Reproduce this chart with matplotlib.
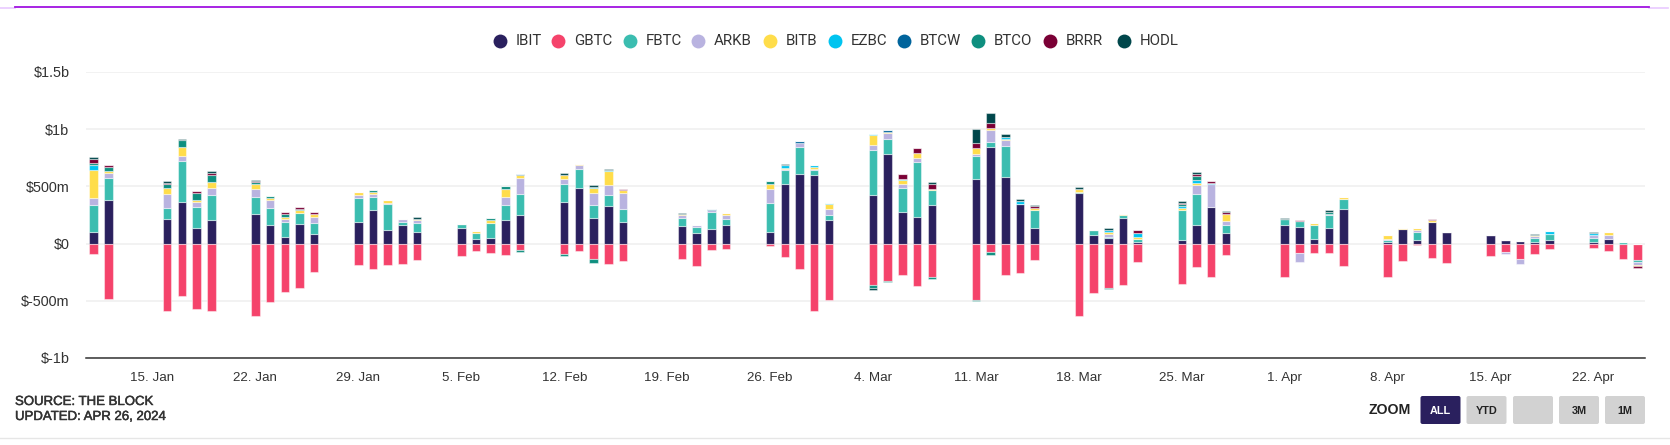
#!/usr/bin/env python3
import pandas as pd
import matplotlib
matplotlib.use('Agg')
import matplotlib.pyplot as plt
import matplotlib.patheffects as pe
from matplotlib.patches import FancyBboxPatch

# Trading days, one row per week
days = ['2024-01-11', '2024-01-12',
        '2024-01-16', '2024-01-17', '2024-01-18', '2024-01-19',
        '2024-01-22', '2024-01-23', '2024-01-24', '2024-01-25', '2024-01-26',
        '2024-01-29', '2024-01-30', '2024-01-31', '2024-02-01', '2024-02-02',
        '2024-02-05', '2024-02-06', '2024-02-07', '2024-02-08', '2024-02-09',
        '2024-02-12', '2024-02-13', '2024-02-14', '2024-02-15', '2024-02-16',
        '2024-02-20', '2024-02-21', '2024-02-22', '2024-02-23',
        '2024-02-26', '2024-02-27', '2024-02-28', '2024-02-29', '2024-03-01',
        '2024-03-04', '2024-03-05', '2024-03-06', '2024-03-07', '2024-03-08',
        '2024-03-11', '2024-03-12', '2024-03-13', '2024-03-14', '2024-03-15',
        '2024-03-18', '2024-03-19', '2024-03-20', '2024-03-21', '2024-03-22',
        '2024-03-25', '2024-03-26', '2024-03-27', '2024-03-28',
        '2024-04-01', '2024-04-02', '2024-04-03', '2024-04-04', '2024-04-05',
        '2024-04-08', '2024-04-09', '2024-04-10', '2024-04-11', '2024-04-12',
        '2024-04-15', '2024-04-16', '2024-04-17', '2024-04-18', '2024-04-19',
        '2024-04-22', '2024-04-23', '2024-04-24', '2024-04-25']

# Daily flows in $m
ibit = [105, 378,
        215, 366, 140, 203,
        259, 163, 61, 174, 87,
        192, 294, 119, 163, 105,
        140, 44, 52, 206, 250,
        366, 488, 227, 326, 192,
        151, 96, 128, 163,
        105, 520, 608, 596, 203,
        422, 782, 279, 235, 334,
        564, 846, 584, 349, 140,
        445, 73, 52, 227, 17,
        32, 163, 323, 96,
        163, 148, 41, 140, 302,
        17, 128, 32, 192, 105,
        76, 32, 20, 15, 32,
        17, 41, 0, 0]
gbtc = [-87, -480,
        -587, -456, -576, -587,
        -631, -512, -424, -392, -250,
        -183, -218, -183, -174, -142,
        -110, -67, -78, -99, -55,
        -87, -67, -134, -174, -154,
        -131, -198, -55, -44,
        -17, -119, -218, -590, -491,
        -363, -328, -273, -372, -294,
        -491, -76, -273, -253, -142,
        -634, -436, -384, -360, -163,
        -349, -206, -294, -99,
        -294, -78, -78, -78, -198,
        -294, -154, -12, -122, -166,
        -110, -76, -134, -90, -47,
        -35, -67, -131, -142]
fbtc = [230, 198,
        99, 360, 183, 218,
        151, 151, 131, 96, 96,
        209, 116, 230, 29, 78,
        35, 47, 131, 131, 186,
        157, 163, 110, 99, 110,
        76, 52, 151, 55,
        250, 119, 238, 44, 44,
        392, 131, 206, 480, 131,
        206, 44, 273, 0, 151,
        9, 47, 9, 20, 23,
        259, 273, 0, 67,
        49, 47, 122, 108, 90,
        15, 0, 73, 0, 0,
        0, 0, 0, 38, 55,
        35, 0, 12, -20]
arkb = [67, 44,
        119, 44, 44, 64,
        67, 67, 26, 0, 52,
        23, 26, 9, 26, 23,
        0, 0, 0, 73, 140,
        41, 32, 108, 87, 142,
        23, 12, 12, 29,
        122, 12, 32, 12, 55,
        44, 55, 35, 35, 0,
        12, 102, 47, 0, 0,
        0, 0, 26, 0, 0,
        0, 76, 201, 32,
        0, -87, 0, 15, 0,
        9, 0, 15, 0, 0,
        0, -15, -44, 12, 0,
        23, 32, 0, -23]
bitb = [241, 12,
        55, 76, 15, 55,
        47, 17, 17, 26, 26,
        23, 17, 23, 0, 12,
        0, 17, 23, 67, 20,
        32, 12, 44, 119, 23,
        12, 0, 0, 23,
        44, 9, 0, 20, 44,
        87, 9, 32, 44, 12,
        55, 20, 9, 0, 23,
        23, 0, 17, 12, 20,
        23, 20, 0, 67,
        0, 0, 20, 0, 12,
        35, 12, 20, 12, 0,
        0, 0, 0, 12, 0,
        0, 26, 0, -12]
ezbc = [44, 0,
        0, 0, 0, 0,
        0, 0, 0, 0, 0,
        0, 0, 0, 0, 0,
        0, 0, 0, 0, 0,
        0, 0, 9, 9, 0,
        0, 0, 0, 0,
        0, 26, 0, 12, 12,
        12, 0, 9, 0, 0,
        0, 0, 23, 20, 0,
        0, 0, 12, 0, 29,
        15, 20, 9, 0,
        0, 0, 0, 0, 0,
        0, 0, 0, 0, 0,
        0, 0, 0, 0, 23,
        15, 0, 0, 0]
btcw = [0, 0,
        0, 0, 0, 0,
        0, 0, 0, 0, 0,
        0, 0, 0, 0, 0,
        0, 0, 0, 0, 12,
        5, 0, 0, 0, 0,
        0, 0, 12, 0,
        0, 0, 17, 0, 0,
        0, 12, 0, 0, 0,
        0, 0, 0, 0, 0,
        0, 0, 0, 0, 0,
        0, 0, 0, 0,
        0, 0, 0, 0, 0,
        0, 0, 0, 0, 0,
        0, 0, 0, 0, 0,
        0, 0, 0, 0]
btco = [20, 35,
        32, 58, 61, 64,
        15, 17, 26, 10, 0,
        0, 15, 0, 0, 0,
        0, 0, 20, 23, -15,
        -23, 0, -32, 0, 0,
        0, 0, 0, 0,
        23, 0, 0, 0, 0,
        -26, -12, 0, 0, -12,
        -12, -20, 0, 0, 0,
        0, 0, -12, 0, 0,
        17, 35, 0, 0,
        0, 0, 0, 16, 0,
        0, 0, 0, 0, 0,
        0, 0, 0, 0, 0,
        0, 0, 0, 0]
brrr = [35, 17,
        12, 0, 15, 12,
        6, 0, 12, 12, 12,
        0, 0, 0, 0, 0,
        0, 0, 0, 0, 0,
        0, 0, 0, 0, 9,
        0, 0, 0, 0,
        0, 0, 0, 0, 0,
        0, 0, 47, 44, 47,
        44, 44, 0, 0, 12,
        0, 0, 0, 0, 29,
        12, 20, 12, 12,
        0, 12, 0, 0, 0,
        0, 0, 0, 12, 0,
        0, 0, 0, 0, 0,
        0, 0, 0, -20]
hodl = [12, 0,
        12, 12, 0, 15,
        12, 0, 0, 0, 0,
        0, 0, 0, 0, 12,
        0, 0, 0, 0, 0,
        12, 0, 12, 12, 0,
        9, 0, 0, 0,
        0, 12, 0, 0, 0,
        -15, 0, 0, 0, 12,
        122, 87, 20, 20, 12,
        15, 0, 23, 0, 0,
        12, 23, 0, 9,
        9, 0, 0, 16, 0,
        0, 0, 0, 0, 0,
        0, 0, 0, 9, 0,
        15, 0, 0, 0]

names = ['IBIT', 'GBTC', 'FBTC', 'ARKB', 'BITB', 'EZBC', 'BTCW', 'BTCO', 'BRRR', 'HODL']
series = [ibit, gbtc, fbtc, arkb, bitb, ezbc, btcw, btco, brrr, hodl]
colors = ['#2a205e', '#f5436b', '#3bbdb0', '#b9b3e0', '#ffdd4a',
          '#00c4f0', '#00649c', '#0e8f7f', '#7a0035', '#00474b']

tick_days = ['2024-01-15', '2024-01-22', '2024-01-29', '2024-02-05', '2024-02-12',
             '2024-02-19', '2024-02-26', '2024-03-04', '2024-03-11', '2024-03-18',
             '2024-03-25', '2024-04-01', '2024-04-08', '2024-04-15', '2024-04-22']
tick_labels = ['15. Jan', '22. Jan', '29. Jan', '5. Feb', '12. Feb', '19. Feb', '26. Feb',
               '4. Mar', '11. Mar', '18. Mar', '25. Mar', '1. Apr', '8. Apr', '15. Apr', '22. Apr']
y_ticks = [-1000, -500, 0, 500, 1000, 1500]
y_labels = ['$-1b', '$-500m', '$0', '$500m', '$1b', '$1.5b']

W, H = 1670, 445
text_col = '#333333'
plt.rcParams['font.family'] = 'Liberation Sans'

fig = plt.figure(figsize=(W / 100, H / 100), dpi=100)

# Page furniture goes on an overlay in pixel coordinates
bg = fig.add_axes([0, 0, 1, 1])
bg.set_xlim(0, W)
bg.set_ylim(H, 0)
bg.axis('off')

# Plot area: x 86-1645, y 72-358
ax = fig.add_axes([86 / W, 1 - 358 / H, (1645 - 86) / W, (358 - 72) / H])
ax.patch.set_alpha(0)

start = pd.Timestamp('2024-01-15')
x = [(pd.Timestamp(d) - start).days for d in days]
xt = [(pd.Timestamp(d) - start).days for d in tick_days]

pos = [0] * len(days)
neg = [0] * len(days)
for vals, col in zip(series, colors):
    bottoms = []
    for i, v in enumerate(vals):
        if v >= 0:
            bottoms.append(pos[i])
            pos[i] += v
        else:
            bottoms.append(neg[i])
            neg[i] += v
    ax.bar(x, vals, bottom=bottoms, width=0.58, color=col,
           edgecolor=(1, 1, 1, 0.45), linewidth=0.8, zorder=3)

ax.set_xlim(-4.52, 101.5)
ax.set_ylim(-1000, 1500)
ax.set_yticks(y_ticks)
ax.set_yticklabels(y_labels, fontsize=10.4, color=text_col)
ax.set_xticks(xt)
ax.set_xticklabels(tick_labels, fontsize=9.6, color=text_col)
ax.tick_params(axis='both', length=0)
ax.tick_params(axis='y', pad=12)
ax.tick_params(axis='x', pad=10)
ax.grid(axis='y', color='#f0f0f0', linewidth=1.2, zorder=0)
ax.set_axisbelow(True)
for s in ['top', 'left', 'right']:
    ax.spines[s].set_visible(False)
ax.spines['bottom'].set_color('#333333')
ax.spines['bottom'].set_linewidth(1.1)

# Legend
dot_x = [500, 558, 629.5, 698, 770, 834.5, 904, 978, 1050, 1123.5]
for dx, name, col in zip(dot_x, names, colors):
    bg.scatter([dx], [41], s=100, color=col, linewidths=0)
    bg.text(dx + 16, 41, name, fontsize=10.8, family='Roboto', color=text_col,
            va='center', ha='left')

# Top rule and bottom rule
bg.plot([0, 15], [8, 8], color='#e9c9ff', lw=1.2)
bg.plot([1649, 1668], [8, 8], color='#e9c9ff', lw=1.2)
bg.plot([15, 1649], [7.3, 7.3], color='#a012e0', lw=1.3)
bg.plot([0, W], [438, 438], color='#e6e6e6', lw=1)

# Source note
thick = [pe.withStroke(linewidth=0.35, foreground=text_col)]
bg.text(15, 402, 'SOURCE: THE BLOCK', fontsize=9.5, color=text_col, va='center', path_effects=thick)
bg.text(15, 417, 'UPDATED: APR 26, 2024', fontsize=9.5, color=text_col, va='center', path_effects=thick)

# Zoom buttons
bg.text(1411, 410, 'ZOOM', fontsize=10.2, weight='bold', color='#222222', va='center', ha='right')
btn_x = [1420.5, 1466.5, 1513, 1559, 1605]
btn_labels = ['ALL', 'YTD', '', '3M', '1M']
for i, (bx, lab) in enumerate(zip(btn_x, btn_labels)):
    fc = '#2a205e' if i == 0 else '#d2d2d2'
    tc = 'white' if i == 0 else '#222222'
    bg.add_patch(FancyBboxPatch((bx + 1.5, 397.5), 37, 25, boxstyle='round,pad=1.5,rounding_size=2',
                                fc=fc, ec='none'))
    bg.text(bx + 20, 411, lab, fontsize=7.8, weight='bold', color=tc, ha='center', va='center')

fig.savefig('out.png', dpi=100)
